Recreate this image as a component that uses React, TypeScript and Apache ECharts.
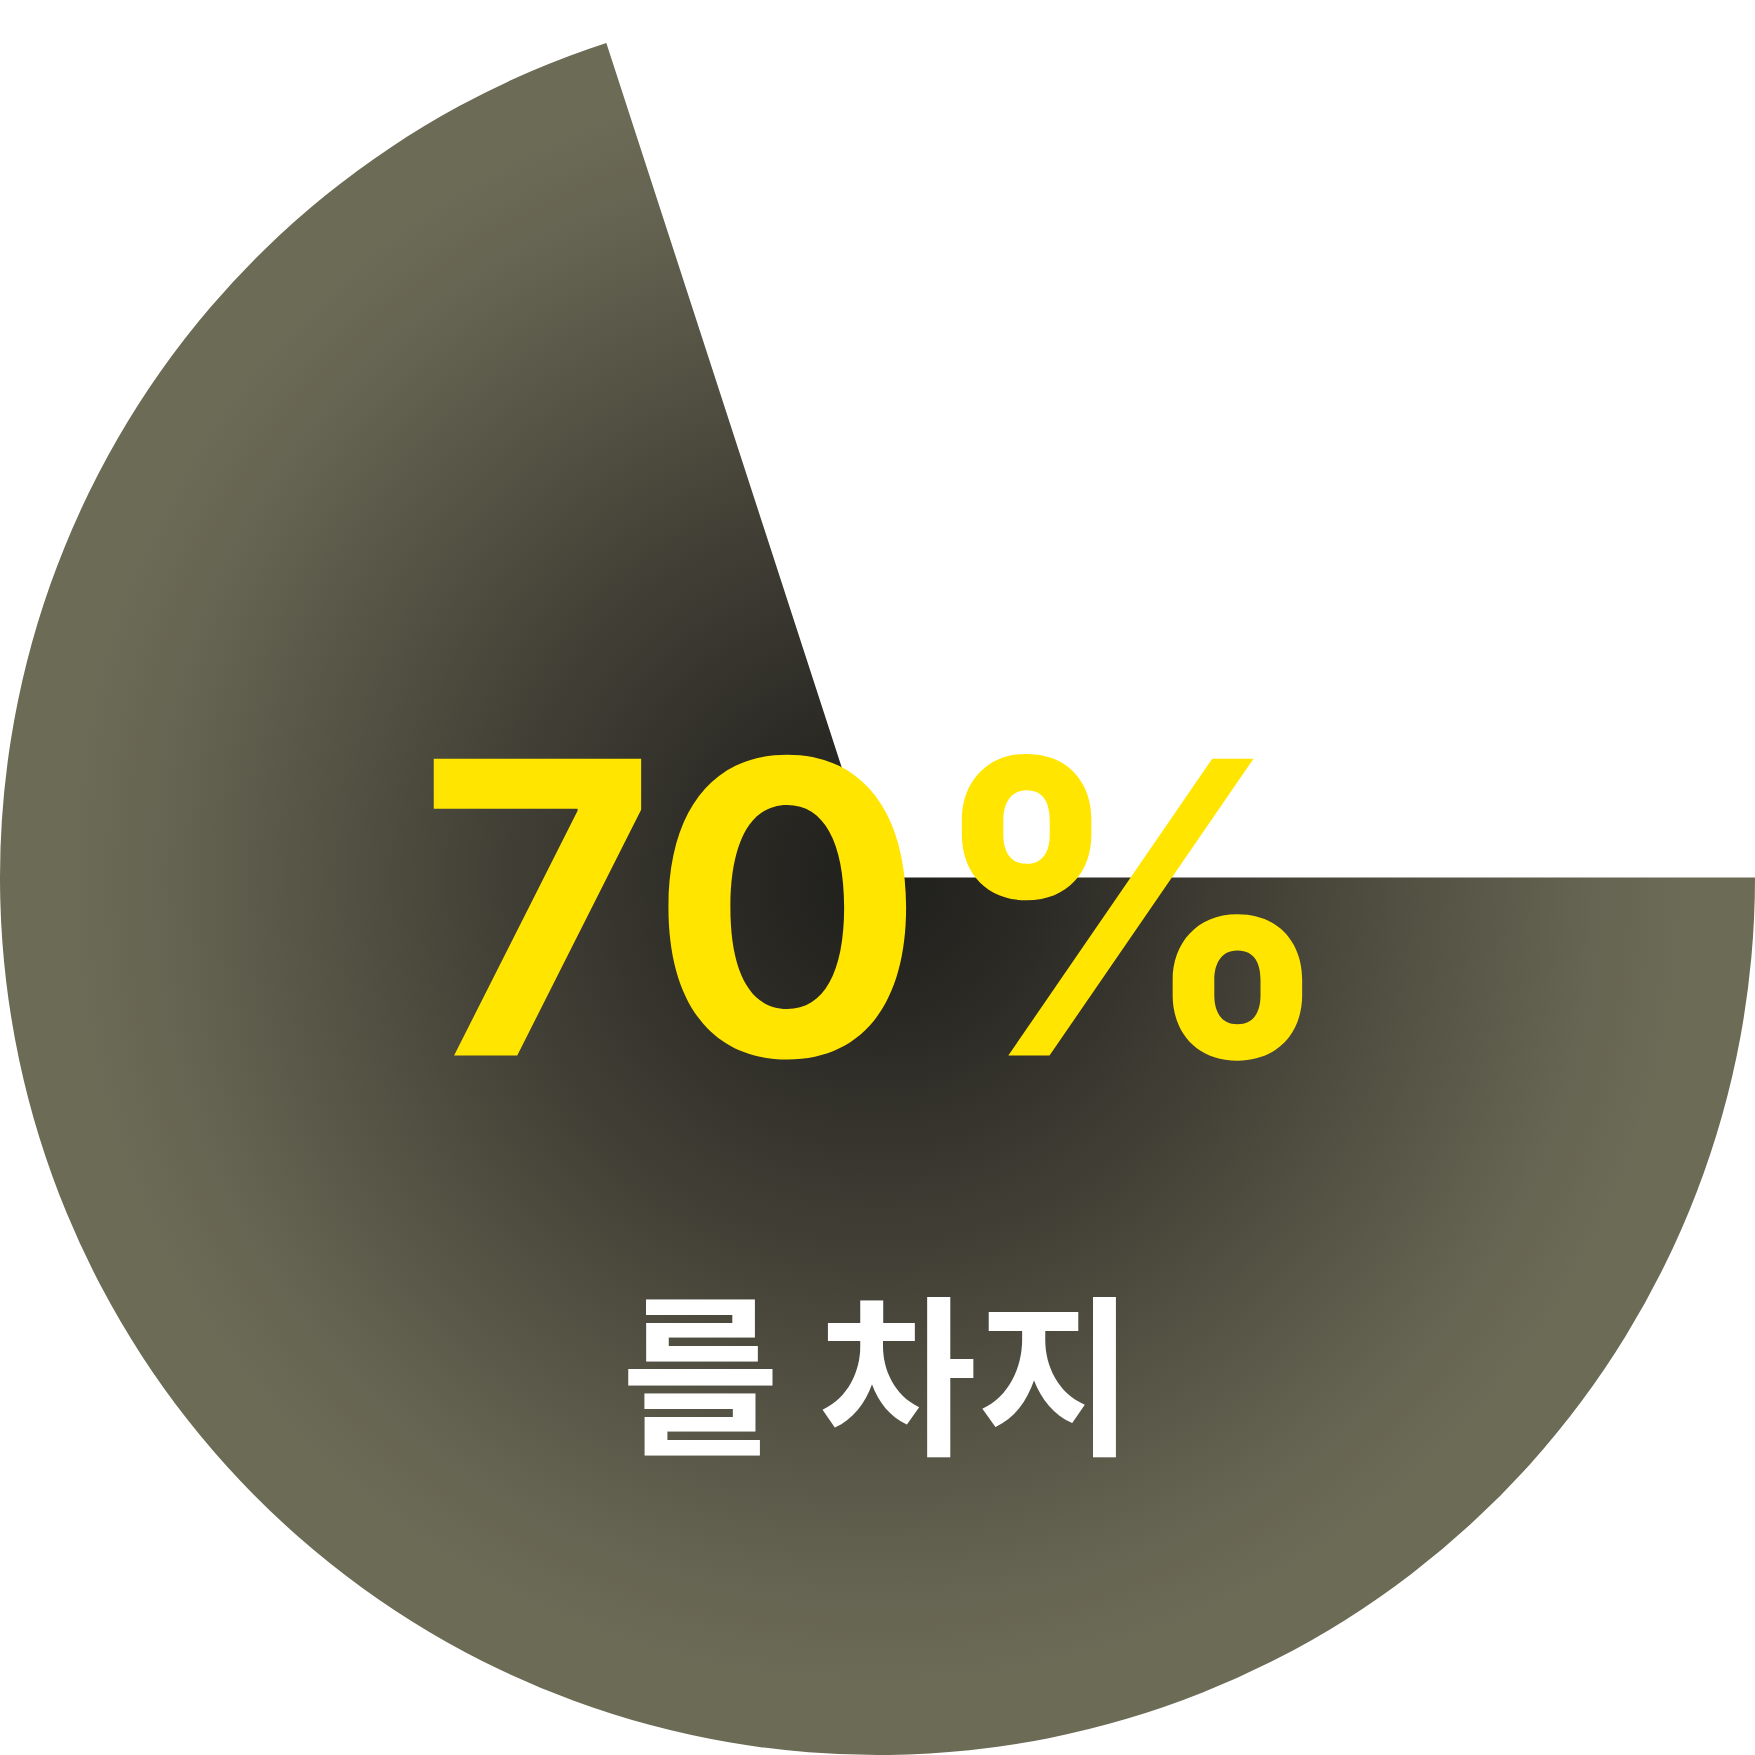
import { useEffect, useRef } from 'react'
import * as echarts from 'echarts'

// share taken vs remainder
const slices = [
  { name: '차지', value: 70 },
  { name: '나머지', value: 30 },
]
const headline = '70%'
const caption = '를 차지'

export default function App() {
  const chartRef = useRef<HTMLDivElement>(null)

  useEffect(() => {
    if (!chartRef.current) return
    const chart = echarts.init(chartRef.current, undefined, { renderer: 'svg' })
    const c = 877.5

    chart.setOption({
      animation: false,
      backgroundColor: '#ffffff',
      series: [
        {
          type: 'pie',
          center: [c, c],
          radius: [0, c],
          startAngle: 0,
          clockwise: true,
          z: 1,
          label: { show: false },
          labelLine: { show: false },
          emphasis: { disabled: true },
          silent: true,
          data: slices.map((s, i) => ({
            ...s,
            itemStyle:
              i === 0
                ? {
                    color: {
                      type: 'radial',
                      x: c,
                      y: c,
                      r: c,
                      global: true,
                      colorStops: [
                        { offset: 0, color: '#1f1f1b' },
                        { offset: 0.18, color: '#2b2a25' },
                        { offset: 0.42, color: '#413f35' },
                        { offset: 0.62, color: '#545243' },
                        { offset: 0.82, color: '#666452' },
                        { offset: 0.92, color: '#6c6b56' },
                        { offset: 1, color: '#6c6b56' },
                      ],
                    },
                  }
                : { color: 'rgba(0,0,0,0)' },
          })),
        },
      ],
      graphic: [
        {
          type: 'text',
          z: 100,
          x: 879,
          y: 907,
          style: {
            text: headline,
            fill: '#ffe500',
            font: '700 408px Inter',
            align: 'center',
            verticalAlign: 'middle',
          },
        },
        {
          type: 'text',
          z: 100,
          x: 878,
          y: 1366,
          style: {
            text: caption,
            fill: '#ffffff',
            font: '700 172px "Noto Sans CJK KR"',
            align: 'center',
            verticalAlign: 'middle',
          },
        },
      ],
    })

    return () => chart.dispose()
  }, [])

  return (
    <div
      ref={chartRef}
      style={{ position: 'absolute', left: 0, top: 0, width: 1755, height: 1755 }}
    />
  )
}
